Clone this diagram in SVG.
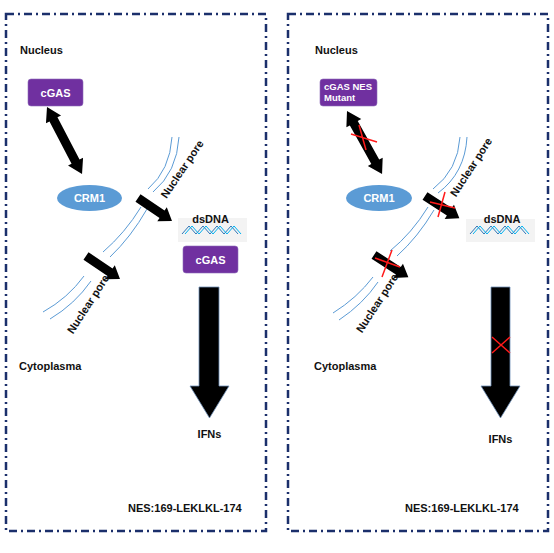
<svg xmlns="http://www.w3.org/2000/svg" width="554" height="553" viewBox="0 0 554 553">
<defs>
<style>
.lbl{font-family:"Liberation Sans",Arial,sans-serif;font-weight:bold;font-size:11px;fill:#111}
.wl{font-family:"Liberation Sans",Arial,sans-serif;font-weight:bold;font-size:11px;fill:#fff}
.border{fill:none;stroke:#1b2f6b;stroke-width:2.5;stroke-dasharray:8 4 2 4}
.pore{fill:none;stroke:#5b9bd5;stroke-width:1}
.prot{fill:#7030a0;stroke:#8d6bb8;stroke-width:0.6}
.crm{fill:#5b9bd5}
.blk{fill:#000}
.big{fill:#000;stroke:#6f8fb8;stroke-width:0.8}
.x{stroke:#ff1a1a;stroke-width:1.5;fill:none}
.dnabg{fill:#f3f3f3}
.s1{fill:none;stroke:#2e75b6;stroke-width:1}
.s2{fill:none;stroke:#00b0f0;stroke-width:1}
</style>
<polygon id="sarrow" points="0,-4.5 29,-4.5 29,-8.5 41,0 29,8.5 29,4.5 0,4.5"/>
</defs>
<rect width="554" height="553" fill="#fff"/>

<!-- panel borders -->
<rect id="left-panel" class="border" x="6" y="14" width="260" height="517"/>
<rect id="right-panel" class="border" x="288" y="14" width="260" height="517"/>

<!-- nuclear membrane (pores) -->
<g id="membrane-left">
<path class="pore" d="M172,137 Q170,170 148,189"/>
<path class="pore" d="M179,137 Q177,172 153,192"/>
<path class="pore" d="M141,207 Q125,233 103,252"/>
<path class="pore" d="M147,209 Q131,237 110,257"/>
<path class="pore" d="M84,276 Q68,298 43,312"/>
<path class="pore" d="M91,281 Q75,304 50,319"/>
</g>
<g id="membrane-right">
<path class="pore" d="M460,137 Q458,170 433,189"/>
<path class="pore" d="M467,137 Q465,173 438,193"/>
<path class="pore" d="M428,207 Q412,233 390,251"/>
<path class="pore" d="M434,210 Q418,237 397,256"/>
<path class="pore" d="M373,277 Q357,298 333,313"/>
<path class="pore" d="M378,282 Q363,304 339,320"/>
</g>

<!-- connectors -->
<g id="connectors">
<polygon class="blk" transform="translate(47,107) rotate(62.4)" points="0,0 14,-8.5 14,-4.5 61.6,-4.5 61.6,-8.5 75.6,0 61.6,8.5 61.6,4.5 14,4.5 14,8.5"/>
<use href="#sarrow" transform="translate(138,198) rotate(34)"/>
<use href="#sarrow" transform="translate(86,256) rotate(34)"/>
<polygon class="big" points="199,287 219,287 219,386 229,386 209.5,418 190,386 199,386"/>

<polygon class="blk" transform="translate(347,111) rotate(60.9)" points="0,0 14,-8.5 14,-4.5 58.1,-4.5 58.1,-8.5 72.1,0 58.1,8.5 58.1,4.5 14,4.5 14,8.5"/>
<use href="#sarrow" transform="translate(425,196) rotate(33)"/>
<use href="#sarrow" transform="translate(374,255) rotate(33)"/>
<polygon class="big" points="491,287 510,287 510,386 520,386 500.5,418 481,386 491,386"/>

<!-- red crosses -->
<path class="x" d="M351,134 L377,142 M359,125 L366,150"/>
<path class="x" d="M430,202 L455,208 M445,192 L438,217"/>
<path class="x" d="M375,258 L400,267 M392,250 L382,277"/>
<path class="x" d="M492,337 L510,353 M510,337 L492,353"/>
</g>

<!-- left panel nodes -->
<g id="nucleus-left"><text class="lbl" x="20" y="54">Nucleus</text></g>
<g id="cgas-left">
<rect class="prot" x="28" y="79" width="55" height="27" rx="3"/>
<text class="wl" x="55.5" y="96.5" text-anchor="middle">cGAS</text>
</g>
<g id="crm1-left">
<ellipse class="crm" cx="89.5" cy="198" rx="32.5" ry="13"/>
<text class="wl" x="89.5" y="202" text-anchor="middle">CRM1</text>
</g>
<g id="pore-label-left-1"><text class="lbl" text-anchor="middle" transform="translate(182,169) rotate(-56)" y="4">Nuclear pore</text></g>
<g id="pore-label-left-2"><text class="lbl" text-anchor="middle" transform="translate(88,304) rotate(-57)" y="4">Nuclear pore</text></g>
<g id="dsdna-left">
<rect class="dnabg" x="178" y="218" width="69" height="24"/>
<polyline class="s1" points="182,234 189,226 196,234 203,226 210,234 217,226 224,234 231,226 238,234"/>
<polyline class="s2" points="185,234 192,226 199,234 206,226 213,234 220,226 227,234 234,226 241,234"/>
<text class="lbl" x="210.5" y="223" text-anchor="middle">dsDNA</text>
</g>
<g id="cgas2-left">
<rect class="prot" x="183" y="246" width="55" height="27" rx="3"/>
<text class="wl" x="210.5" y="263.5" text-anchor="middle">cGAS</text>
</g>
<g id="cyto-left"><text class="lbl" x="19" y="370">Cytoplasma</text></g>
<g id="ifns-left"><text class="lbl" x="209.5" y="438" text-anchor="middle">IFNs</text></g>
<g id="nes-left"><text class="lbl" x="128" y="512">NES:169-LEKLKL-174</text></g>

<!-- right panel nodes -->
<g id="nucleus-right"><text class="lbl" x="315" y="54">Nucleus</text></g>
<g id="cgas-mutant">
<rect class="prot" x="320" y="79" width="57" height="27" rx="3"/>
<text class="wl" x="324" y="90" style="font-size:9.5px">cGAS NES</text>
<text class="wl" x="324" y="101" style="font-size:9.5px">Mutant</text>
</g>
<g id="crm1-right">
<ellipse class="crm" cx="379" cy="198" rx="33" ry="13"/>
<text class="wl" x="379" y="202" text-anchor="middle">CRM1</text>
</g>
<g id="pore-label-right-1"><text class="lbl" text-anchor="middle" transform="translate(471,167) rotate(-57)" y="4">Nuclear pore</text></g>
<g id="pore-label-right-2"><text class="lbl" text-anchor="middle" transform="translate(377,303) rotate(-57)" y="4">Nuclear pore</text></g>
<g id="dsdna-right">
<rect class="dnabg" x="466" y="219" width="69" height="23"/>
<polyline class="s1" points="470,234 477,226 484,234 491,226 498,234 505,226 512,234 519,226 526,234"/>
<polyline class="s2" points="473,234 480,226 487,234 494,226 501,234 508,226 515,234 522,226 529,234"/>
<text class="lbl" x="502" y="223" text-anchor="middle">dsDNA</text>
</g>
<g id="cyto-right"><text class="lbl" x="314" y="370">Cytoplasma</text></g>
<g id="ifns-right"><text class="lbl" x="500.5" y="443" text-anchor="middle">IFNs</text></g>
<g id="nes-right"><text class="lbl" x="405" y="512">NES:169-LEKLKL-174</text></g>
</svg>
